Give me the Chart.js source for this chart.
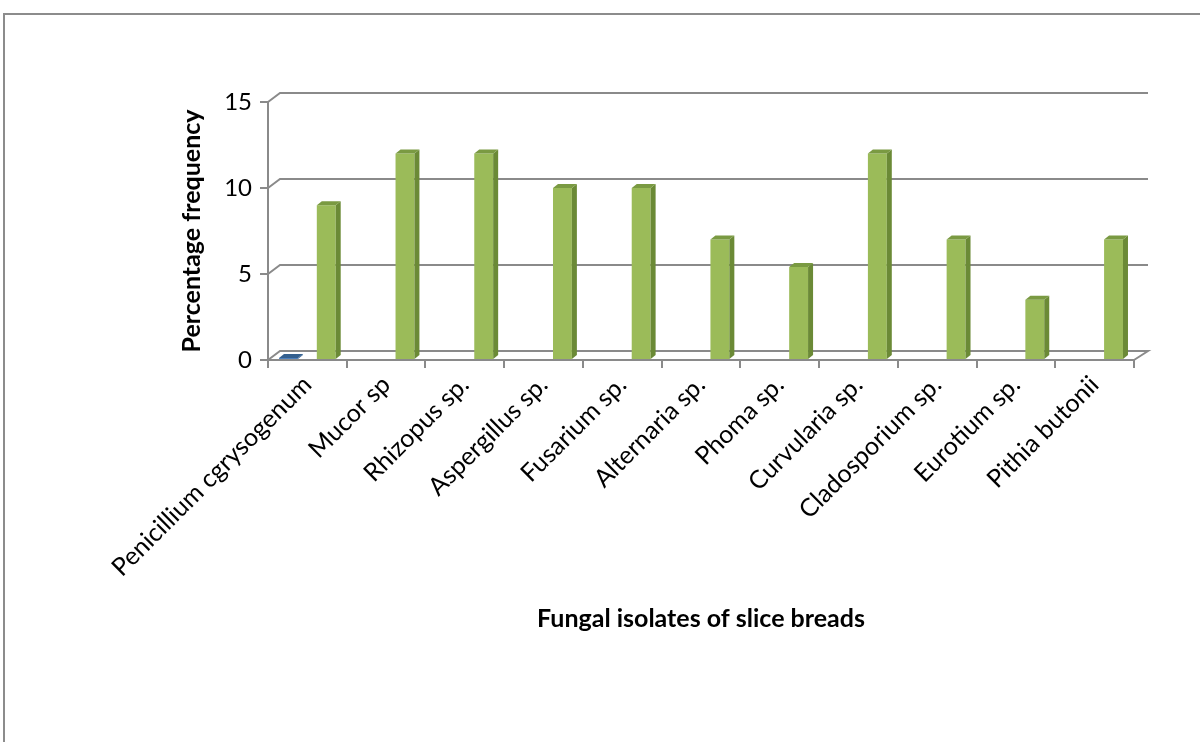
<!DOCTYPE html>
<html>
<head>
<meta charset="utf-8">
<script src="https://cdn.jsdelivr.net/npm/chart.js@4.4.1/dist/chart.umd.min.js"></script>
<style>
  html, body { margin: 0; padding: 0; background: #fff; overflow: hidden; }
  #frame { position: absolute; left: 3px; top: 13px; width: 1230px; height: 780px; border: 2px solid #8c8c8c; box-sizing: border-box; }
  #wrap { position: absolute; left: 0; top: 0; width: 1200px; height: 742px; }
</style>
</head>
<body>
<div id="frame"></div>
<div id="wrap"><canvas id="chart" width="1200" height="742"></canvas></div>
<script>
// Data
const categories = ["Penicillium cgrysogenum", "Mucor sp", "Rhizopus sp.", "Aspergillus sp.", "Fusarium sp.",
  "Alternaria sp.", "Phoma sp.", "Curvularia sp.", "Cladosporium sp.", "Eurotium sp.", "Pithia butonii"];
const blueSeries = [0, null, null, null, null, null, null, null, null, null, null];
const frequency = [9, 12, 12, 10, 10, 7, 5.4, 12, 7, 3.5, 7];
const yTicks = [0, 5, 10, 15];

const gridColor = "#8a8a8a";
const depthX = 12, depthY = 9;      // back wall offset
const barDX = 5, barDY = 4;         // bar side depth

// back wall + floor lines, drawn before bars
const wallPlugin = {
  id: "wall3d",
  beforeDatasetsDraw(chart) {
    const ctx = chart.ctx, y = chart.scales.y, area = chart.chartArea;
    ctx.save();
    ctx.strokeStyle = gridColor;
    ctx.lineWidth = 2;
    yTicks.forEach(function(v) {
      const py = y.getPixelForValue(v);
      ctx.beginPath();
      ctx.moveTo(area.left, py);
      ctx.lineTo(area.left + depthX, py - depthY);
      ctx.lineTo(area.right + depthX + 2, py - depthY);
      if (v === 0) ctx.lineTo(area.right, py);
      ctx.stroke();
    });
    ctx.restore();
  },
  afterDatasetsDraw(chart) {
    const ctx = chart.ctx;
    const faces = [["#3b6799", "#34608f"], ["#6b8a36", "#7a9a42"]];
    ctx.save();
    chart.data.datasets.forEach(function(ds, i) {
      const meta = chart.getDatasetMeta(i);
      meta.data.forEach(function(bar, j) {
        if (ds.data[j] === null) return;
        const p = bar.getProps(["x", "y", "base", "width"], true);
        const l = p.x - p.width / 2, r = p.x + p.width / 2;
        // side
        ctx.fillStyle = faces[i][0];
        ctx.beginPath();
        ctx.moveTo(r, p.y); ctx.lineTo(r + barDX, p.y - barDY);
        ctx.lineTo(r + barDX, p.base - barDY); ctx.lineTo(r, p.base);
        ctx.closePath(); ctx.fill();
        // top
        ctx.fillStyle = faces[i][1];
        ctx.beginPath();
        ctx.moveTo(l, p.y); ctx.lineTo(l + barDX, p.y - barDY);
        ctx.lineTo(r + barDX, p.y - barDY); ctx.lineTo(r, p.y);
        ctx.closePath(); ctx.fill();
      });
    });
    ctx.restore();
  }
};

const chart = new Chart(document.getElementById("chart"), {
  type: "bar",
  data: {
    labels: categories,
    datasets: [
      { label: "Series1", data: blueSeries, backgroundColor: "#4f81bd", minBarLength: 2 },
      { label: "Series2", data: frequency, backgroundColor: "#9bbb59" }
    ]
  },
  options: {
    responsive: false,
    animation: false,
    devicePixelRatio: 1,
    layout: { padding: { left: 177, top: 102, right: 66, bottom: 104 } },
    categoryPercentage: 0.96,
    barPercentage: 0.5,
    plugins: { legend: { display: false }, tooltip: { enabled: false } },
    scales: {
      x: {
        offset: true,
        grid: { display: true, drawOnChartArea: false, offset: true, color: gridColor, lineWidth: 2, tickLength: 8 },
        border: { display: true, color: gridColor, width: 2 },
        ticks: { minRotation: 45, maxRotation: 45, autoSkip: false, padding: 2, color: "#000",
          font: { family: "Lato", size: 25 } },
        title: { display: true, text: "Fungal isolates of slice breads", color: "#000",
          font: { family: "Lato", size: 25, weight: "bold" }, padding: { top: 4, bottom: 4 } },
        afterFit: function(scale) { scale.height = 278; }
      },
      y: {
        min: 0, max: 15,
        afterBuildTicks: function(scale) { scale.ticks = yTicks.map(function(v) { return { value: v }; }); },
        grid: { display: true, drawOnChartArea: false, color: gridColor, lineWidth: 2, tickLength: 8 },
        border: { display: true, color: gridColor, width: 2 },
        ticks: { padding: 8, color: "#000", font: { family: "Lato", size: 24 } },
        title: { display: true, text: "Percentage frequency", color: "#000",
          font: { family: "Lato", size: 25, weight: "bold" }, padding: { top: 0, bottom: 4 } },
        afterFit: function(scale) { scale.width = 91; }
      }
    }
  },
  plugins: [wallPlugin]
});
</script>
</body>
</html>
